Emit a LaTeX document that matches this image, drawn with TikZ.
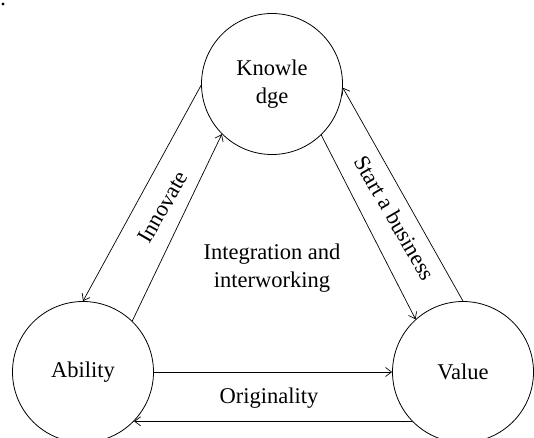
\documentclass[tikz,border=0pt]{standalone}
\usepackage{fontspec}
\setmainfont{Liberation Serif}
\usetikzlibrary{arrows.meta}
\begin{document}
\begin{tikzpicture}[x=1pt,y=-1pt,
  every node/.style={font=\fontsize{22.5pt}{28pt}\selectfont},
  circ/.style={circle,draw,line width=0.8pt,inner sep=0pt,minimum size=141pt,align=center},
  conn/.style={line width=0.7pt,-{Straight Barb[length=6pt,width=9pt]}},
  lbl/.style={inner sep=0pt,align=center}]
\clip (0,0) rectangle (534,437);
\useasboundingbox (0,0) rectangle (534,437);
\fill (3,4) circle (1.6pt);
\node[circ] (K) at (272,84) {Knowle\\dge};
\node[circ] (A) at (83,372) {Ability};
\node[circ] (V) at (463,372) {Value};
% Innovate
\draw[conn] (K.181.6) -- (A.90);
\draw[conn] (A.46) -- (K.225.6);
% Start a business
\draw[conn] (K.314) -- (V.132.8);
\draw[conn] (V.90) -- (K.357.6);
% Originality
\draw[conn] (A.0) -- (V.180);
\draw[conn] (V.224) -- (A.316);
\node[lbl,rotate=60] (inn) at (163,207) {Innovate};
\node[lbl,rotate=-60] (sab) at (395,218) {Start a business};
\node[lbl] (int) at (272,268) {Integration and\\interworking};
\node[lbl] (ori) at (269,398) {Originality};
\end{tikzpicture}
\end{document}
